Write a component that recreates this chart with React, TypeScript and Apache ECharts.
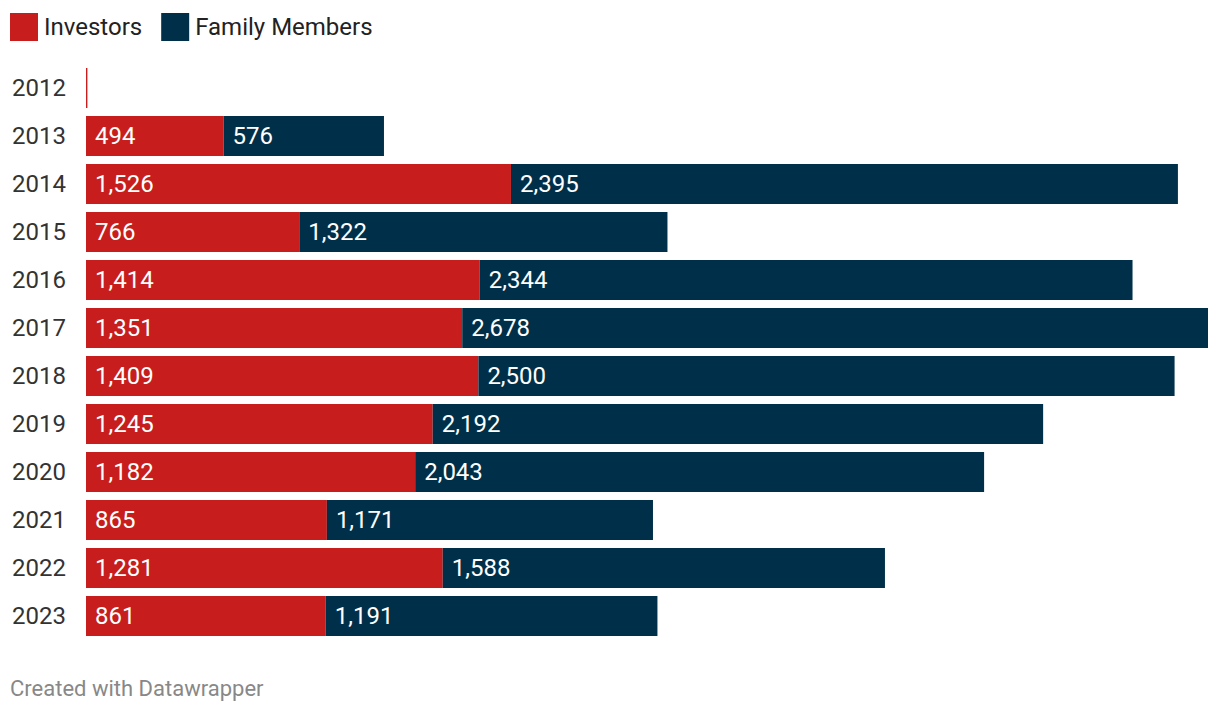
import React, { useEffect, useRef } from "react";
import * as echarts from "echarts";

const years = ["2012", "2013", "2014", "2015", "2016", "2017", "2018", "2019", "2020", "2021", "2022", "2023"];
const investors = [5, 494, 1526, 766, 1414, 1351, 1409, 1245, 1182, 865, 1281, 861];
const familyMembers = [0, 576, 2395, 1322, 2344, 2678, 2500, 2192, 2043, 1171, 1588, 1191];
const seriesNames = ["Investors", "Family Members"];
const colors = ["#c71e1d", "#003049"];

export default function App() {
  const ref = useRef<HTMLDivElement>(null);
  useEffect(() => {
    if (!ref.current) return;
    const chart = echarts.init(ref.current, null, { renderer: "svg" });
    const font = "Roboto";
    const label = {
      show: true,
      position: "insideLeft" as const,
      distance: 9,
      color: "#ffffff",
      fontFamily: font,
      fontSize: 24,
      formatter: (p: any) => (p.value >= 100 ? Number(p.value).toLocaleString("en-US") : ""),
    };
    chart.setOption({
      animation: false,
      legend: {
        left: 10,
        top: 13,
        padding: 0,
        itemWidth: 28,
        itemHeight: 28,
        itemGap: 19,
        icon: "rect",
        textStyle: { fontFamily: font, fontSize: 24, color: "#222222", padding: [0, 0, 0, 1] },
        data: seriesNames,
      },
      grid: { left: 86, right: 12, top: 64, bottom: 74, containLabel: false },
      xAxis: { type: "value", min: 0, max: 4029, show: false },
      yAxis: {
        type: "category",
        inverse: true,
        data: years,
        axisLine: { show: false },
        axisTick: { show: false },
        axisLabel: { align: "left", margin: 74, fontFamily: font, fontSize: 24, color: "#333333" },
      },
      series: [
        {
          name: seriesNames[0],
          type: "bar",
          stack: "total",
          data: investors,
          barCategoryGap: "16.7%",
          itemStyle: { color: colors[0] },
          label,
        },
        {
          name: seriesNames[1],
          type: "bar",
          stack: "total",
          data: familyMembers,
          barCategoryGap: "16.7%",
          itemStyle: { color: colors[1] },
          label,
        },
      ],
      graphic: [
        {
          type: "text",
          left: 10,
          top: 677,
          style: { text: "Created with Datawrapper", fontFamily: font, fontSize: 22, fill: "#888888" },
        },
      ],
    });
    return () => chart.dispose();
  }, []);
  return <div ref={ref} style={{ width: 1220, height: 714, position: "absolute", left: 0, top: 0 }} />;
}
